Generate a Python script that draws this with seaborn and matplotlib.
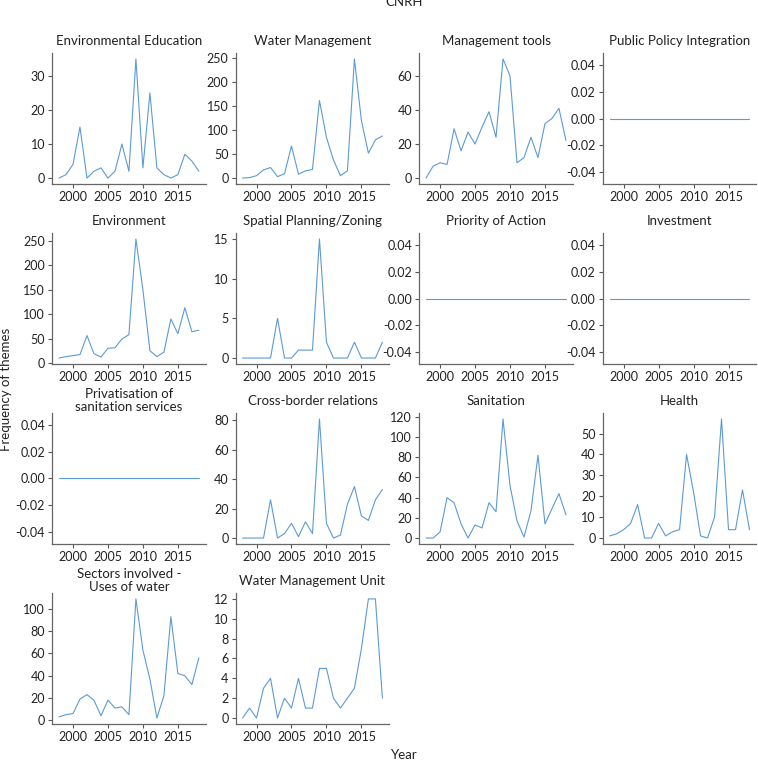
import matplotlib
matplotlib.use("Agg")
import matplotlib.pyplot as plt
from matplotlib.ticker import MultipleLocator
import seaborn as sns
import pandas as pd

sns.set_theme(style="ticks")
plt.rcParams["font.family"] = ["Lato", "DejaVu Sans"]
plt.rcParams["axes.unicode_minus"] = False

years = list(range(1998, 2019))

themes = [
    "Environmental Education", "Water Management", "Management tools",
    "Public Policy Integration", "Environment", "Spatial Planning/Zoning",
    "Priority of Action", "Investment", "Privatisation of\nsanitation services",
    "Cross-border relations", "Sanitation", "Health",
    "Sectors involved -\nUses of water", "Water Management Unit",
]

env_education = [0, 1, 4, 15, 0, 2, 3, 0, 2, 10, 2, 35, 3, 25, 3, 1, 0, 1, 7, 5, 2]
water_management = [0, 1, 5, 17, 22, 3, 9, 67, 8, 15, 18, 162, 85, 38, 5, 15, 249, 120, 52, 80, 88]
management_tools = [0, 7, 9, 8, 29, 16, 27, 20, 30, 39, 24, 70, 60, 9, 12, 24, 12, 32, 35, 41, 22]
public_policy = [0] * 21
environment = [10, 13, 15, 17, 56, 19, 12, 30, 31, 49, 58, 254, 150, 25, 13, 22, 90, 60, 113, 64, 67]
spatial_planning = [0, 0, 0, 0, 0, 5, 0, 0, 1, 1, 1, 15, 2, 0, 0, 0, 2, 0, 0, 0, 2]
priority_action = [0] * 21
investment = [0] * 21
privatisation = [0] * 21
cross_border = [0, 0, 0, 0, 26, 0, 3, 10, 1, 11, 3, 81, 10, 0, 2, 23, 35, 15, 12, 26, 33]
sanitation = [0, 0, 6, 40, 35, 14, 0, 13, 10, 35, 26, 118, 52, 17, 1, 27, 82, 14, 29, 44, 23]
health = [1, 2, 4, 7, 16, 0, 0, 7, 1, 3, 4, 40, 22, 1, 0, 10, 57, 4, 4, 23, 4]
sectors_uses = [3, 5, 6, 19, 23, 18, 4, 18, 11, 12, 5, 109, 63, 37, 2, 22, 93, 42, 40, 32, 56]
wm_unit = [0, 1, 0, 3, 4, 0, 2, 1, 4, 1, 1, 5, 5, 2, 1, 2, 3, 7, 12, 12, 2]

series = [env_education, water_management, management_tools, public_policy,
          environment, spatial_planning, priority_action, investment,
          privatisation, cross_border, sanitation, health, sectors_uses, wm_unit]

# y tick spacing used in each panel
ytick_steps = [10, 50, 20, 0.02, 50, 5, 0.02, 0.02, 0.02, 20, 20, 10, 20, 2]

fig, axs = plt.subplots(4, 4, figsize=(7.58, 7.64), dpi=100)
fig.subplots_adjust(left=0.0686, right=0.998, top=0.9306, bottom=0.0524,
                    wspace=0.193, hspace=0.374)

line_color = "#5b9bd5"
for ax, name, vals, step in zip(axs.flat, themes, series, ytick_steps):
    df = pd.DataFrame({"Year": years, "Frequency": vals})
    sns.lineplot(data=df, x="Year", y="Frequency", ax=ax,
                 color=line_color, linewidth=0.8)
    ax.text(0.5, 1.095, name, transform=ax.transAxes, ha="center",
            va="center", fontsize=9.5, color="#222222", linespacing=1.15)
    ax.set_xlabel("")
    ax.set_ylabel("")
    ax.set_xticks([2000, 2005, 2010, 2015])
    ax.yaxis.set_major_locator(MultipleLocator(step))
    if max(vals) == 0:
        ax.set_ylim(-0.049, 0.049)
    ax.tick_params(labelsize=9, colors="#555555", labelcolor="#222222",
                   length=3, width=0.8, pad=2)
    for s in ("left", "bottom"):
        ax.spines[s].set_color("#666666")
        ax.spines[s].set_linewidth(0.9)
    sns.despine(ax=ax)

for ax in axs.flat[len(themes):]:
    ax.set_visible(False)

fig.text(0.533, 0.997, "CNRH", ha="center", va="center", fontsize=9.5, color="#222222")
fig.text(0.533, 0.012, "Year", ha="center", va="center", fontsize=9.5, color="#222222")
fig.text(0.008, 0.49, "Frequency of themes", ha="center", va="center",
         rotation=90, fontsize=9.5, color="#222222")

fig.savefig("out.png", dpi=100)
